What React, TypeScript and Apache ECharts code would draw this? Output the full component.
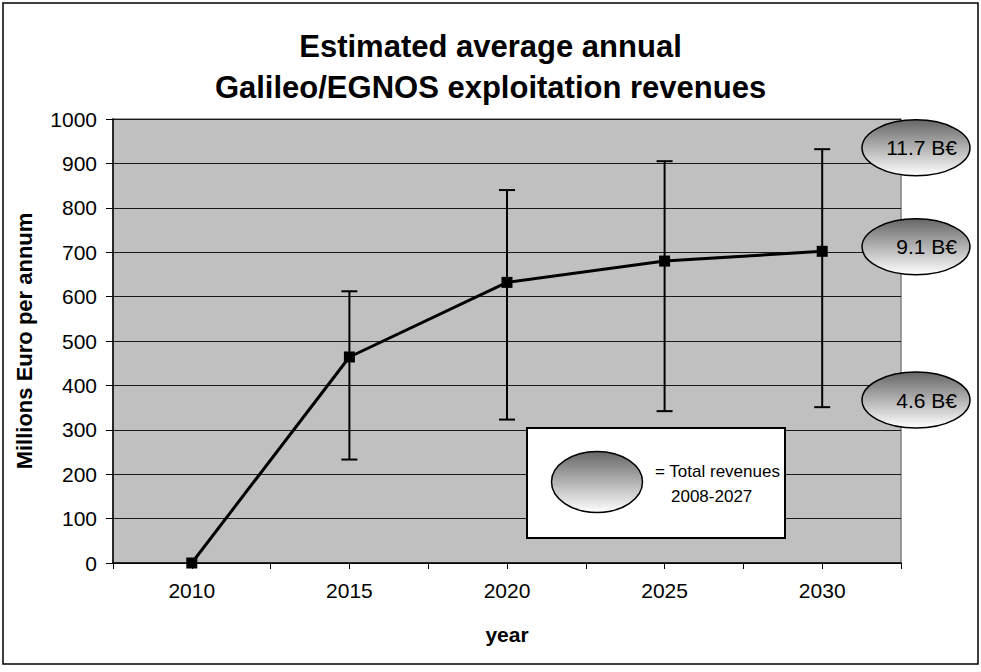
import React, { useEffect, useRef } from 'react';
import * as echarts from 'echarts';

const years = [2010, 2015, 2020, 2025, 2030];
const revenue = [0, 464, 632, 680, 702];
const errLow: (number | null)[] = [null, 233, 323, 342, 351];
const errHigh: (number | null)[] = [null, 612, 840, 905, 932];
const totalLabels = ['11.7 B€', '9.1 B€', '4.6 B€'];
const totalAnchors = [935, 712, 367];
const legendLines = ['= Total revenues', '2008-2027'];

const FONT = 'Liberation Sans';

export default function App() {
  const ref = useRef<HTMLDivElement>(null);
  useEffect(() => {
    const chart = echarts.init(ref.current!, null, { renderer: 'svg' });
    const errData = years
      .map((y, i) => (errLow[i] == null ? null : [y, errLow[i], errHigh[i]]))
      .filter((d) => d !== null);
    const option: any = {
      animation: false,
      backgroundColor: '#ffffff',
      textStyle: { fontFamily: FONT },
      title: {
        text: 'Estimated average annual\nGalileo/EGNOS exploitation revenues',
        left: 'center',
        top: 21,
        textStyle: { fontSize: 31, fontWeight: 'bold', color: '#000', lineHeight: 41, fontFamily: FONT },
      },
      grid: {
        left: 113, right: 80, top: 119, bottom: 109,
        show: true, backgroundColor: '#c0c0c0', borderColor: '#808080', borderWidth: 1.5,
      },
      xAxis: {
        type: 'value', min: 2007.5, max: 2032.5, interval: 2.5,
        name: 'year', nameLocation: 'middle', nameGap: 61,
        nameTextStyle: { fontSize: 21, fontWeight: 'bold', color: '#000', fontFamily: FONT },
        axisLine: { lineStyle: { color: '#000', width: 1.5 } },
        axisTick: { length: 6, lineStyle: { color: '#000', width: 1 } },
        axisLabel: {
          fontSize: 21, color: '#000', margin: 17, fontFamily: FONT,
          formatter: (v: number) => (v % 5 === 0 ? String(v) : ''),
        },
        splitLine: { show: false },
      },
      yAxis: {
        type: 'value', min: 0, max: 1000, interval: 100,
        name: 'Millions Euro per annum', nameLocation: 'middle', nameGap: 78,
        nameTextStyle: { fontSize: 22, fontWeight: 'bold', color: '#000', fontFamily: FONT },
        axisLine: { show: true, lineStyle: { color: '#000', width: 1.5 } },
        axisTick: { show: true, length: 7, lineStyle: { color: '#000', width: 1 } },
        axisLabel: { fontSize: 21, color: '#000', margin: 16, fontFamily: FONT, formatter: (v: number) => String(v) },
        splitLine: { show: true, lineStyle: { color: '#1a1a1a', width: 1 } },
      },
      series: [
        {
          type: 'custom',
          name: 'range',
          data: errData,
          encode: { x: 0, y: [1, 2] },
          z: 3,
          renderItem: (params: any, api: any) => {
            const x = api.value(0);
            const pLo = api.coord([x, api.value(1)]);
            const pHi = api.coord([x, api.value(2)]);
            const w = 8;
            const st = { stroke: '#000', lineWidth: 2 };
            return {
              type: 'group',
              children: [
                { type: 'line', shape: { x1: pLo[0], y1: pLo[1], x2: pHi[0], y2: pHi[1] }, style: st },
                { type: 'line', shape: { x1: pHi[0] - w, y1: pHi[1], x2: pHi[0] + w, y2: pHi[1] }, style: st },
                { type: 'line', shape: { x1: pLo[0] - w, y1: pLo[1], x2: pLo[0] + w, y2: pLo[1] }, style: st },
              ],
            };
          },
        },
        {
          type: 'line',
          name: 'revenue',
          data: years.map((y, i) => [y, revenue[i]]),
          symbol: 'rect',
          symbolSize: 11,
          lineStyle: { color: '#000', width: 3 },
          itemStyle: { color: '#000' },
          z: 4,
        },
      ],
    };
    chart.setOption(option);

    const xRight = chart.convertToPixel({ xAxisIndex: 0 }, 2032.5) as number;
    const gradient = () =>
      new echarts.graphic.LinearGradient(0, 0, 0, 1, [
        { offset: 0, color: '#666666' },
        { offset: 1, color: '#ffffff' },
      ]);
    const graphics: any[] = [
      {
        type: 'rect', silent: true, z: 200,
        shape: { x: 3, y: 3, width: 975, height: 661 },
        style: { fill: 'none', stroke: '#000', lineWidth: 1.5 },
      },
    ];
    totalLabels.forEach((lab, i) => {
      const cy = chart.convertToPixel({ yAxisIndex: 0 }, totalAnchors[i]) as number;
      const cx = xRight + 15;
      graphics.push({
        type: 'ellipse', z: 100,
        shape: { cx, cy, rx: 54, ry: 28 },
        style: { fill: gradient(), stroke: '#000', lineWidth: 1.5 },
      });
      graphics.push({
        type: 'text', z: 101,
        x: cx + 41, y: cy,
        style: { text: lab, align: 'right', verticalAlign: 'middle', fill: '#000', fontSize: 21, fontFamily: FONT },
      });
    });
    // legend box
    graphics.push({
      type: 'rect', z: 100,
      shape: { x: 527, y: 428, width: 258, height: 110 },
      style: { fill: '#fff', stroke: '#000', lineWidth: 2 },
    });
    graphics.push({
      type: 'ellipse', z: 101,
      shape: { cx: 597, cy: 482, rx: 45.5, ry: 30.5 },
      style: { fill: gradient(), stroke: '#000', lineWidth: 1.5 },
    });
    graphics.push({
      type: 'text', z: 101, x: 655, y: 471,
      style: { text: legendLines[0], align: 'left', verticalAlign: 'middle', fill: '#000', fontSize: 17, fontFamily: FONT },
    });
    graphics.push({
      type: 'text', z: 101, x: 671, y: 496,
      style: { text: legendLines[1], align: 'left', verticalAlign: 'middle', fill: '#000', fontSize: 17, fontFamily: FONT },
    });
    chart.setOption({ graphic: graphics });

    return () => chart.dispose();
  }, []);
  return <div ref={ref} style={{ position: 'fixed', left: 0, top: 0, width: 981, height: 672 }} />;
}
